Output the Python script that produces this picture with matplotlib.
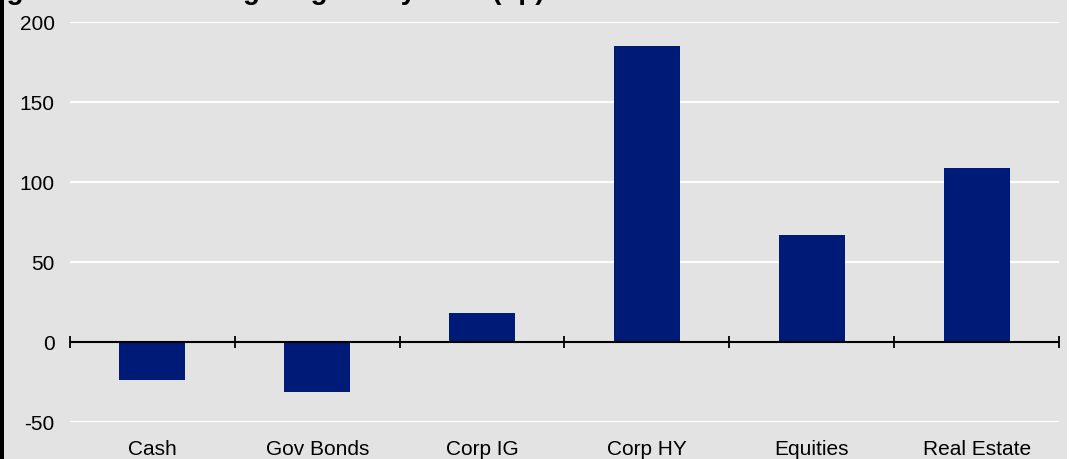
import matplotlib.pyplot as plt
from matplotlib.patches import Rectangle
import numpy as np

# データ
categories = ['Cash', 'Gov Bonds', 'Corp IG', 'Corp HY', 'Equities', 'Real Estate']
change_bp = [-24, -31, 18, 185, 67, 109]
y_ticks = [-50, 0, 50, 100, 150, 200]
title = 'Figure 15: Total Weighting Tilt by Area (bp)'

bar_color = '#001A78'
bg_color = '#E3E3E3'

plt.rcParams['font.family'] = ['Liberation Sans', 'DejaVu Sans']
plt.rcParams['axes.unicode_minus'] = False

fig = plt.figure(figsize=(10.71, 4.59), dpi=100)
fig.patch.set_facecolor(bg_color)
ax = fig.add_axes([70 / 1071, 37 / 459, 989 / 1071, 400 / 459])
ax.set_facecolor(bg_color)

x = np.arange(len(categories))
ax.bar(x, change_bp, width=0.4, color=bar_color, zorder=3)

# グリッド線（白）
for v in y_ticks:
    if v != 0:
        ax.axhline(v, color='white', linewidth=1.5, zorder=1)

# ゼロ線と区切りの目盛り
ax.axhline(0, color='black', linewidth=1.5, zorder=4)
ax.plot(np.arange(len(categories) + 1) - 0.5, np.zeros(len(categories) + 1),
        linestyle='none', marker='|', markersize=9, markeredgewidth=1.3,
        color='black', zorder=4, clip_on=False)

ax.set_xlim(-0.5, len(categories) - 0.5)
ax.set_ylim(-50, 200)
ax.set_xticks(x)
ax.set_xticklabels(categories)
ax.set_yticks(y_ticks)
ax.tick_params(axis='both', length=0, labelsize=15, colors='black')
ax.tick_params(axis='x', pad=13)
ax.tick_params(axis='y', pad=11)
for s in ax.spines.values():
    s.set_visible(False)

# 上が切れたタイトル（下の部分だけ見える）
fig.text(-18 / 1071, 1 + 1 / 459, title, fontsize=20, fontweight='bold',
         ha='left', va='baseline')

# 左の黒い枠線と右端の白い帯
fig.add_artist(Rectangle((0, 0), 4 / 1071, 1, transform=fig.transFigure,
                         facecolor='black', edgecolor='none'))
fig.add_artist(Rectangle((1067 / 1071, 0), 4 / 1071, 1, transform=fig.transFigure,
                         facecolor='white', edgecolor='none'))

plt.savefig('out.png', dpi=100, facecolor=fig.get_facecolor())
